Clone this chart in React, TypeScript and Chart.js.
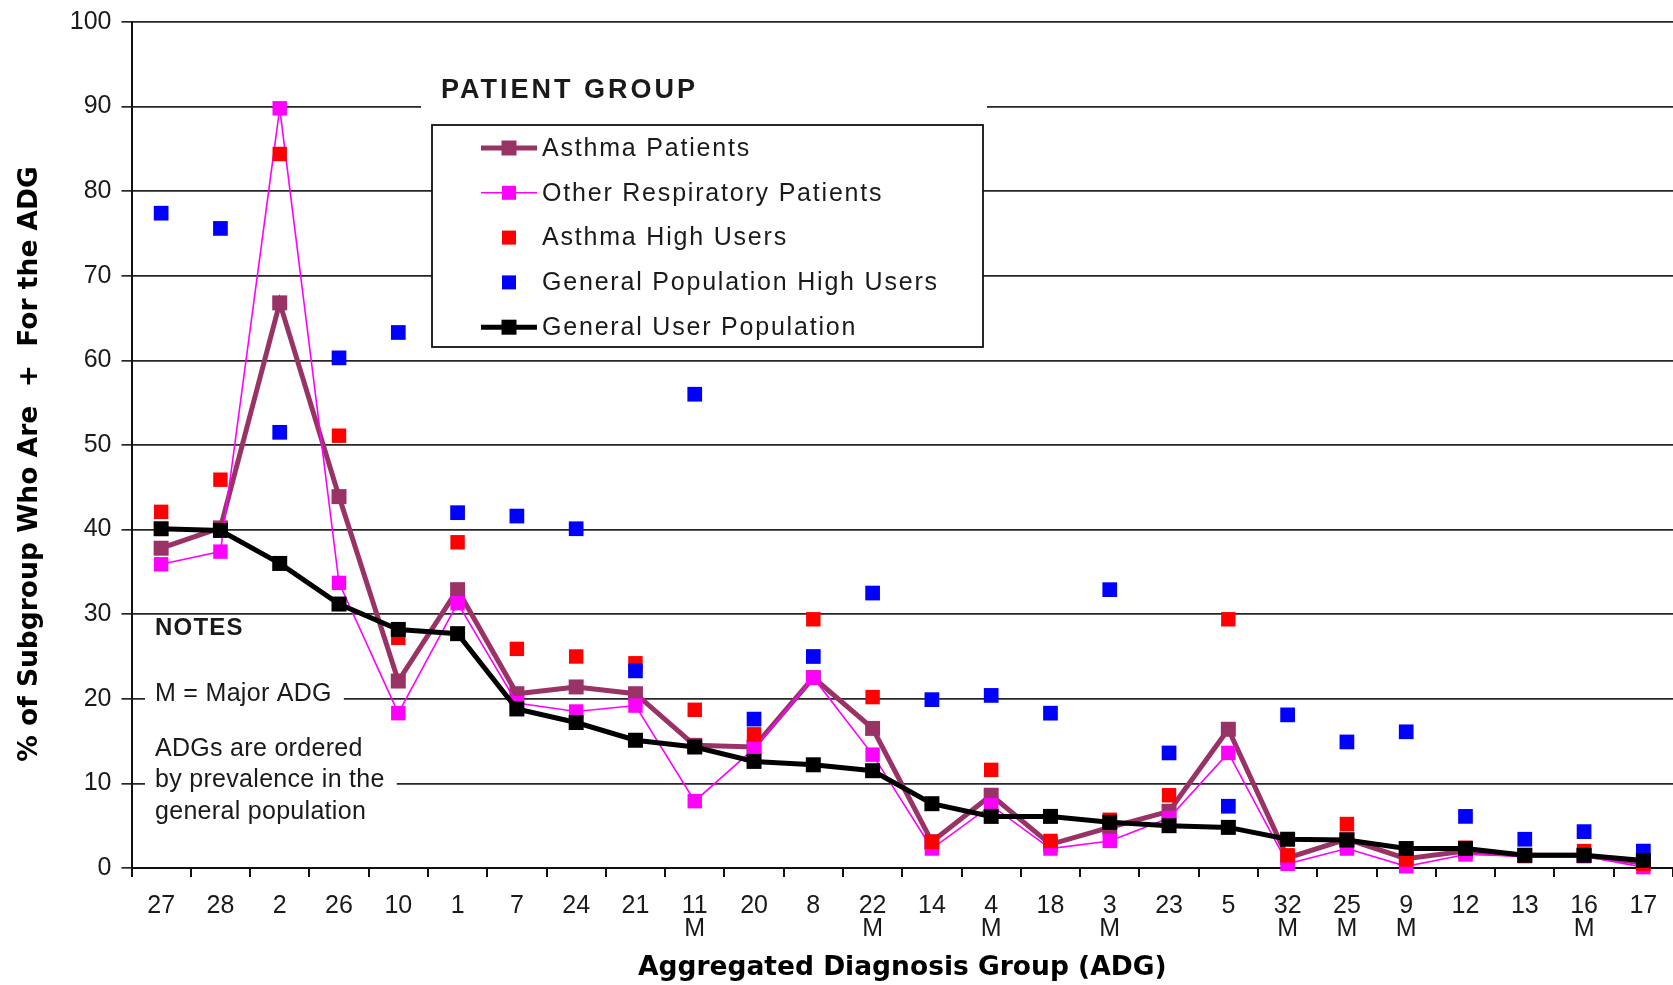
import { useEffect, useRef } from "react";
import { Chart, registerables } from "chart.js";

Chart.register(...registerables);

// ---- Data ----
const adgCodes = ["27", "28", "2", "26", "10", "1", "7", "24", "21", "11", "20", "8", "22", "14", "4", "18", "3", "23", "5", "32", "25", "9", "12", "13", "16", "17"];
const majorAdg = [false, false, false, false, false, false, false, false, false, true, false, false, true, false, true, false, true, false, false, true, true, true, false, false, true, false];

const asthmaPatients = [37.8, 40.2, 66.8, 43.9, 22.1, 32.9, 20.6, 21.4, 20.6, 14.5, 14.3, 22.5, 16.5, 3.1, 8.6, 2.8, 4.8, 6.7, 16.4, 1.2, 3.4, 1.1, 2.0, 1.5, 1.5, 0.6];
const otherRespiratory = [35.9, 37.4, 89.8, 33.7, 18.3, 31.3, 19.5, 18.5, 19.2, 7.9, 14.1, 22.5, 13.4, 2.3, 7.4, 2.3, 3.2, 5.9, 13.6, 0.5, 2.3, 0.2, 1.6, 1.4, 1.4, 0.1];
const asthmaHighUsers = [42.1, 45.9, 84.4, 51.1, 27.2, 38.5, 25.9, 25.0, 24.2, 18.7, 15.8, 29.4, 20.2, 3.1, 11.6, 3.2, 5.7, 8.6, 29.4, 1.5, 5.2, 1.0, 2.4, 1.5, 2.0, 0.5];
const genPopHighUsers = [77.4, 75.6, 51.5, 60.3, 63.3, 42.0, 41.6, 40.1, 23.3, 56.0, 17.6, 25.0, 32.5, 19.9, 20.4, 18.3, 32.9, 13.6, 7.3, 18.1, 14.9, 16.1, 6.1, 3.4, 4.3, 2.0];
const generalUsers = [40.1, 39.9, 36.0, 31.2, 28.2, 27.7, 18.8, 17.2, 15.1, 14.3, 12.6, 12.2, 11.5, 7.6, 6.1, 6.1, 5.4, 5.0, 4.8, 3.4, 3.3, 2.3, 2.3, 1.5, 1.5, 0.9];

const yTickValues = [0, 10, 20, 30, 40, 50, 60, 70, 80, 90, 100];

const legendTitle = "PATIENT GROUP";
const notesTitle = "NOTES";
const notesLines = ["M = Major ADG", "ADGs are ordered", "by prevalence in the", "general population"];
const yTitle = "% of Subgroup Who Are  +  For the ADG";
const xTitle = "Aggregated Diagnosis Group (ADG)";

// ---- Styles ----
const PURPLE = "#993366";
const MAGENTA = "#FF00FF";
const RED = "#FF0000";
const BLUE = "#0000FF";
const BLACK = "#000000";
const TEXT = "#1a1a1a";
const SANS = '"Liberation Sans", Arial, sans-serif';
const BOLD_TITLE = '"DejaVu Sans", Verdana, sans-serif';

type LegendItem = { label: string; color: string; lineWidth: number; line: boolean; size: number };

const legendItems: LegendItem[] = [
  { label: "Asthma Patients", color: PURPLE, lineWidth: 5, line: true, size: 15 },
  { label: "Other Respiratory Patients", color: MAGENTA, lineWidth: 1.6, line: true, size: 14 },
  { label: "Asthma High Users", color: RED, lineWidth: 0, line: false, size: 14 },
  { label: "General Population High Users", color: BLUE, lineWidth: 0, line: false, size: 14 },
  { label: "General User Population", color: BLACK, lineWidth: 5, line: true, size: 15 },
];

const overlayPlugin = {
  id: "overlayTexts",
  beforeDatasetsDraw(chart: any) {
    const ctx: CanvasRenderingContext2D = chart.ctx;
    ctx.save();

    // Legend title with white backing (breaks the 90 gridline)
    ctx.fillStyle = "#ffffff";
    ctx.fillRect(421, 66, 566, 50);
    ctx.fillStyle = TEXT;
    ctx.font = `bold 27px ${SANS}`;
    (ctx as any).letterSpacing = "3px";
    ctx.textAlign = "left";
    ctx.textBaseline = "middle";
    ctx.fillText(legendTitle, 441, 91);

    // Legend box
    const bx = 432, by = 125, bw = 551, bh = 222;
    ctx.fillStyle = "#ffffff";
    ctx.fillRect(bx, by, bw, bh);
    ctx.strokeStyle = "#111";
    ctx.lineWidth = 1.8;
    ctx.strokeRect(bx, by, bw, bh);

    ctx.font = `25px ${SANS}`;
    (ctx as any).letterSpacing = "1.8px";
    legendItems.forEach((it, i) => {
      const cy = 148 + i * 44.8;
      if (it.line) {
        ctx.strokeStyle = it.color;
        ctx.lineWidth = it.lineWidth;
        ctx.beginPath();
        ctx.moveTo(481, cy);
        ctx.lineTo(537, cy);
        ctx.stroke();
      }
      ctx.fillStyle = it.color;
      ctx.fillRect(509 - it.size / 2, cy - it.size / 2, it.size, it.size);
      ctx.fillStyle = TEXT;
      ctx.fillText(it.label, 542, cy + 1);
    });

    // Notes
    (ctx as any).letterSpacing = "1.2px";
    ctx.font = `bold 24px ${SANS}`;
    ctx.fillStyle = TEXT;
    ctx.fillText(notesTitle, 155, 628);
    (ctx as any).letterSpacing = "0.3px";
    ctx.font = `25px ${SANS}`;
    const noteYs = [694, 749, 780, 812];
    notesLines.forEach((t, i) => {
      const w = ctx.measureText(t).width;
      ctx.fillStyle = "#ffffff";
      ctx.fillRect(145, noteYs[i] - 14, w + 22, 28);
      ctx.fillStyle = TEXT;
      ctx.fillText(t, 155, noteYs[i]);
    });

    // Y axis title
    (ctx as any).letterSpacing = "0px";
    ctx.translate(30, 464);
    ctx.rotate(-Math.PI / 2);
    ctx.font = `bold 26.5px ${BOLD_TITLE}`;
    ctx.fillStyle = BLACK;
    ctx.textAlign = "center";
    ctx.textBaseline = "middle";
    ctx.fillText(yTitle, 0, 0);

    ctx.restore();
  },
};

function lineSet(label: string, data: number[], color: string, width: number, showLine: boolean, order: number, radius: number) {
  return {
    label,
    data,
    borderColor: color,
    backgroundColor: color,
    borderWidth: width,
    showLine,
    order,
    tension: 0,
    pointStyle: "rect" as const,
    pointRadius: radius,
    pointHoverRadius: radius,
    pointBackgroundColor: color,
    pointBorderColor: color,
    pointBorderWidth: 0,
    clip: false as const,
  };
}

export default function App() {
  const ref = useRef<HTMLCanvasElement>(null);

  useEffect(() => {
    const labels = adgCodes.map((c, i) => (majorAdg[i] ? [c, "M"] : c));
    const chart = new Chart(ref.current as HTMLCanvasElement, {
      type: "line",
      data: {
        labels,
        datasets: [
          lineSet("Asthma Patients", asthmaPatients, PURPLE, 5, true, 5, 10.6),
          lineSet("Other Respiratory Patients", otherRespiratory, MAGENTA, 1.6, true, 4, 10.2),
          lineSet("Asthma High Users", asthmaHighUsers, RED, 0, false, 3, 10.2),
          lineSet("General Population High Users", genPopHighUsers, BLUE, 0, false, 2, 10.4),
          lineSet("General User Population", generalUsers, BLACK, 5, true, 1, 10.6),
        ] as any,
      },
      options: {
        animation: false,
        responsive: true,
        maintainAspectRatio: false,
        events: [],
        layout: { autoPadding: false, padding: { top: 22, right: 0, left: 0, bottom: 0 } },
        plugins: {
          legend: { display: false },
          tooltip: { enabled: false },
        },
        scales: {
          x: {
            type: "category",
            offset: true,
            grid: {
              offset: true,
              drawOnChartArea: false,
              drawTicks: true,
              tickLength: 9,
              color: "#111",
              lineWidth: 2,
            },
            border: { display: true, color: "#111", width: 2 },
            ticks: {
              autoSkip: false,
              maxRotation: 0,
              minRotation: 0,
              padding: 18,
              color: TEXT,
              font: { family: SANS, size: 25, lineHeight: 0.92 },
            },
            title: {
              display: true,
              text: xTitle,
              color: BLACK,
              font: { family: BOLD_TITLE, size: 26.5, weight: "bold", lineHeight: 1.2 },
              padding: { top: 0, bottom: 1 },
            },
            afterFit(scale: any) {
              scale.height = 117;
              scale.paddingLeft = 0;
              scale.paddingRight = 0;
            },
          },
          y: {
            min: 0,
            max: 100,
            afterBuildTicks(scale: any) {
              scale.ticks = yTickValues.map((v) => ({ value: v }));
            },
            grid: {
              drawTicks: true,
              tickLength: 10,
              color: "#262626",
              lineWidth: 1.7,
            },
            border: { display: true, color: "#111", width: 2 },
            ticks: {
              padding: 10,
              color: TEXT,
              font: { family: SANS, size: 25 },
            },
            afterFit(scale: any) {
              scale.width = 131.5;
              scale.paddingTop = 0;
              scale.paddingBottom = 0;
            },
          },
        },
      },
      plugins: [overlayPlugin],
    });
    return () => chart.destroy();
  }, []);

  return (
    <div style={{ position: "fixed", left: 0, top: 0, width: 1673, height: 985, background: "#ffffff" }}>
      <canvas ref={ref} />
    </div>
  );
}
